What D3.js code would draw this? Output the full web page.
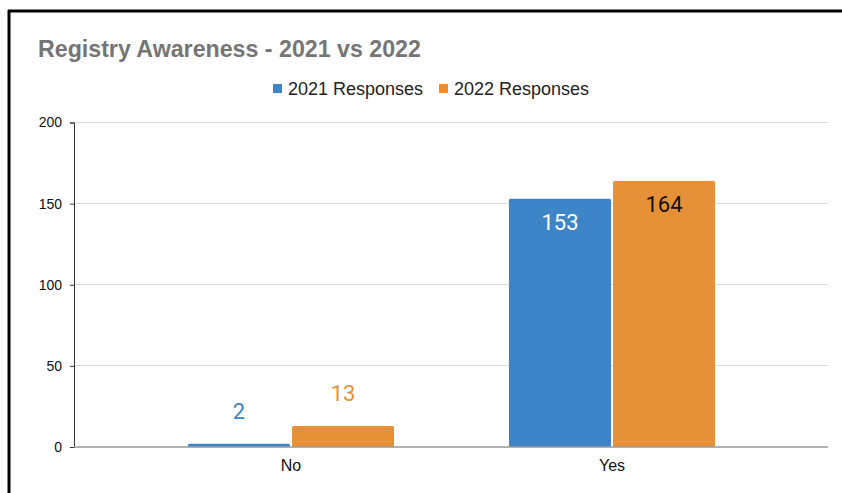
<!DOCTYPE html>
<html>
<head>
<meta charset="utf-8">
<script src="https://cdn.jsdelivr.net/npm/d3@7"></script>
<style>
  html, body { margin: 0; padding: 0; background: #fff; }
  svg { display: block; }
</style>
</head>
<body>
<svg id="chart" width="842" height="493"></svg>
<script>
// Survey answers per category, one array per year
const categories = ["No", "Yes"];
const seriesNames = ["2021 Responses", "2022 Responses"];
const responses2021 = [2, 153];
const responses2022 = [13, 164];
const yTicks = [0, 50, 100, 150, 200];

const colors = ["#3d85c6", "#e69138"];
const series = [responses2021, responses2022];

const svg = d3.select("#chart");
const W = 842, H = 493;

// frame edges (top and left)
svg.append("rect").attr("x", 0).attr("y", 0).attr("width", W).attr("height", H).attr("fill", "#fff");
svg.append("line").attr("x1", 8).attr("x2", W).attr("y1", 11).attr("y2", 11)
  .attr("stroke", "#000").attr("stroke-width", 3);
svg.append("line").attr("x1", 9).attr("x2", 9).attr("y1", 10).attr("y2", H)
  .attr("stroke", "#000").attr("stroke-width", 3);

// title
svg.append("text").attr("x", 38).attr("y", 57)
  .attr("font-family", "Liberation Sans, Arial, sans-serif")
  .attr("font-size", 23.2).attr("font-weight", "bold").attr("fill", "#757575")
  .text("Registry Awareness - 2021 vs 2022");

// legend
const legend = svg.append("g").attr("font-family", "Liberation Sans, Arial, sans-serif").attr("font-size", 18);
const legendX = [273, 439];
seriesNames.forEach((name, i) => {
  legend.append("rect").attr("x", legendX[i]).attr("y", 84).attr("width", 9).attr("height", 9).attr("fill", colors[i]);
  legend.append("text").attr("x", legendX[i] + 15).attr("y", 94.5).attr("fill", "#222").text(name);
});

// scales
const plotLeft = 74, plotRight = 828;
const y = d3.scaleLinear().domain([0, 200]).range([447, 122.5]);
const x = d3.scaleBand().domain(categories).range([130.5, 772.5]).paddingInner(0.358).paddingOuter(0.179);
const xs = d3.scaleBand().domain(d3.range(series.length)).range([0, x.bandwidth()]).paddingInner(0.02);

// gridlines
svg.append("g").selectAll("line").data(yTicks.filter(t => t > 0)).join("line")
  .attr("x1", plotLeft).attr("x2", plotRight)
  .attr("y1", d => y(d)).attr("y2", d => y(d))
  .attr("stroke", "#d9d9d9").attr("stroke-width", 1).attr("shape-rendering", "crispEdges");

// y axis
const yAxis = svg.append("g").attr("transform", `translate(${plotLeft},0)`)
  .call(d3.axisLeft(y).tickValues(yTicks).tickSize(4).tickPadding(8));
yAxis.select(".domain").attr("stroke", "#333");
yAxis.selectAll(".tick line").attr("stroke", "#333");
yAxis.selectAll("text").attr("font-family", "Liberation Sans, Arial, sans-serif").attr("font-size", 14).attr("fill", "#111");

// bars
const groups = svg.append("g").selectAll("g").data(categories).join("g")
  .attr("transform", d => `translate(${x(d)},0)`);

groups.each(function(cat, ci) {
  const g = d3.select(this);
  series.forEach((vals, si) => {
    const v = vals[ci];
    g.append("rect")
      .attr("x", xs(si)).attr("width", xs.bandwidth())
      .attr("y", y(v)).attr("height", y(0) - y(v))
      .attr("rx", 1.5)
      .attr("fill", colors[si]);
  });
});

// baseline
svg.append("line").attr("x1", plotLeft).attr("x2", plotRight).attr("y1", y(0)).attr("y2", y(0))
  .attr("stroke", "#999").attr("stroke-width", 1.5);

// value labels: above short bars, inside tall bars
groups.each(function(cat, ci) {
  const g = d3.select(this);
  series.forEach((vals, si) => {
    const v = vals[ci];
    const inside = (y(0) - y(v)) > 60;
    g.append("text")
      .attr("x", xs(si) + xs.bandwidth() / 2)
      .attr("y", inside ? y(v) + 31 : y(v) - 25)
      .attr("text-anchor", "middle")
      .attr("font-family", "Roboto, sans-serif").attr("font-size", 22)
      .attr("fill", inside ? (si === 0 ? "#fff" : "#111") : colors[si])
      .text(v);
  });
});

// category labels
svg.append("g").selectAll("text").data(categories).join("text")
  .attr("x", d => x(d) + x.bandwidth() / 2).attr("y", 471)
  .attr("text-anchor", "middle")
  .attr("font-family", "Liberation Sans, Arial, sans-serif").attr("font-size", 16).attr("fill", "#111")
  .text(d => d);
</script>
</body>
</html>
